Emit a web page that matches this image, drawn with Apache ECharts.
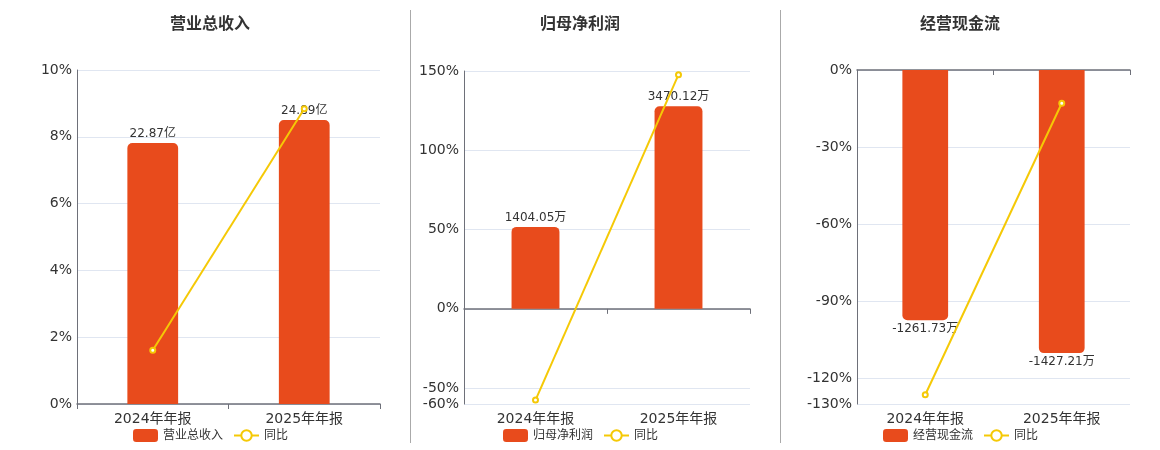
<!DOCTYPE html>
<html>
<head>
<meta charset="utf-8">
<title>财务指标</title>
<script src="https://cdn.jsdelivr.net/npm/echarts@6/dist/echarts.min.js"></script>
<style>
    html, body {margin: 0; padding: 0; background: #fff;}
    #main {width: 1160px; height: 450px;}
</style>
</head>
<body>
<div id="main"></div>
<script>
'use strict'

// 数据
var categories = ['2024年年报', '2025年年报'];
var titles = ['营业总收入', '归母净利润', '经营现金流'];
var units = ['亿', '万', '万'];

var revenue = [22.87, 24.89];
var revenueYoy = [1.61, 8.84];

var profit = [1404.05, 3470.12];
var profitYoy = [-57.5, 147.7];

var cash = [-1261.73, -1427.21];
var cashYoy = [-126.4, -12.95];

// 百分比轴刻度
var revenueTicks = [0, 2, 4, 6, 8, 10];
var profitTicks = [-60, -50, 0, 50, 100, 150];
var cashTicks = [-130, -120, -90, -60, -30, 0];

var barData = [revenue, profit, cash];
var yoyData = [revenueYoy, profitYoy, cashYoy];
var tickData = [revenueTicks, profitTicks, cashTicks];

var barColor = '#E84B1C';
var lineColor = '#F5C906';
var fontFamily = '"DejaVu Sans", "Noto Sans CJK SC", sans-serif';

// 布局
var grids = [
    {left: 77, width: 303, top: 70, height: 334},
    {left: 464, width: 286, top: 71, height: 333},
    {left: 857, width: 273, top: 70, height: 334}
];
var titleCenter = [205, 575, 955];
var legendLeft = [128, 498, 878];
// 隐藏的柱子轴，0 点与百分比轴对齐
var barAxisMin = [0, -1629.6, -1683.7];
var barAxisMax = [29.28, 4074, 0];

var myChart = echarts.init(document.getElementById('main'));

var option = {
    animation: false,
    textStyle: {fontFamily: fontFamily},
    title: [],
    legend: [],
    grid: [],
    xAxis: [],
    yAxis: [],
    series: [],
    graphic: [
        {type: 'line', shape: {x1: 410.5, y1: 10, x2: 410.5, y2: 443}, style: {stroke: '#aaaaaa', lineWidth: 1}},
        {type: 'line', shape: {x1: 780.5, y1: 10, x2: 780.5, y2: 443}, style: {stroke: '#aaaaaa', lineWidth: 1}}
    ]
};

for (var i = 0; i < 3; i++) {
    var ticks = tickData[i];
    option.title.push({
        text: titles[i],
        left: titleCenter[i],
        top: 12,
        textAlign: 'center',
        textStyle: {fontSize: 16, fontWeight: 'bold', color: '#333', fontFamily: fontFamily}
    });
    option.legend.push({
        data: [titles[i], '同比'],
        left: legendLeft[i],
        top: 424,
        itemWidth: 25,
        itemHeight: 13,
        itemGap: 10,
        textStyle: {fontSize: 12, color: '#333', fontFamily: fontFamily}
    });
    option.grid.push({
        left: grids[i].left,
        top: grids[i].top,
        width: grids[i].width,
        height: grids[i].height,
        containLabel: false,
        outerBoundsMode: 'none'
    });
    // 0 线位置的轴线和刻度
    option.xAxis.push({
        type: 'category',
        gridIndex: i,
        data: categories,
        axisLine: {show: true, onZero: true, onZeroAxisIndex: i * 2, lineStyle: {color: '#6E7079', width: 1.5}},
        axisTick: {show: true, lineStyle: {color: '#6E7079'}},
        axisLabel: {show: false},
        splitLine: {show: false}
    });
    // 底部的类目文字
    option.xAxis.push({
        type: 'category',
        gridIndex: i,
        position: 'bottom',
        data: categories,
        axisLine: {show: false, onZero: false},
        axisTick: {show: false},
        axisLabel: {show: true, fontSize: 14, color: '#333', margin: 8, fontFamily: fontFamily},
        splitLine: {show: false}
    });
    option.yAxis.push({
        type: 'value',
        gridIndex: i,
        min: ticks[0],
        max: ticks[ticks.length - 1],
        axisLine: {show: true, lineStyle: {color: '#6E7079'}},
        axisTick: {show: false, customValues: ticks},
        axisLabel: {fontSize: 14, color: '#333', margin: 5, formatter: '{value}%', customValues: ticks, fontFamily: fontFamily},
        splitLine: {show: true, lineStyle: {color: '#E0E6F1'}}
    });
    option.yAxis.push({
        type: 'value',
        gridIndex: i,
        show: false,
        min: barAxisMin[i],
        max: barAxisMax[i],
        splitLine: {show: false}
    });
    (function (idx) {
        var negative = barData[idx][0] < 0;
        option.series.push({
            name: titles[idx],
            type: 'bar',
            xAxisIndex: idx * 2,
            yAxisIndex: idx * 2 + 1,
            data: barData[idx],
            barWidth: '33.5%',
            itemStyle: {
                color: barColor,
                borderRadius: negative ? [0, 0, 5, 5] : [5, 5, 0, 0]
            },
            label: {
                show: true,
                position: negative ? 'bottom' : 'top',
                distance: 3,
                fontSize: 12,
                color: '#333',
                fontFamily: fontFamily,
                formatter: function (p) {
                    return p.value + units[idx];
                }
            }
        });
        option.series.push({
            name: '同比',
            type: 'line',
            xAxisIndex: idx * 2,
            yAxisIndex: idx * 2,
            data: yoyData[idx],
            symbol: 'emptyCircle',
            symbolSize: 5,
            lineStyle: {color: lineColor, width: 2},
            itemStyle: {color: lineColor, borderColor: lineColor, borderWidth: 1.5},
            z: 5
        });
    })(i);
}

myChart.setOption(option);
</script>
</body>
</html>
